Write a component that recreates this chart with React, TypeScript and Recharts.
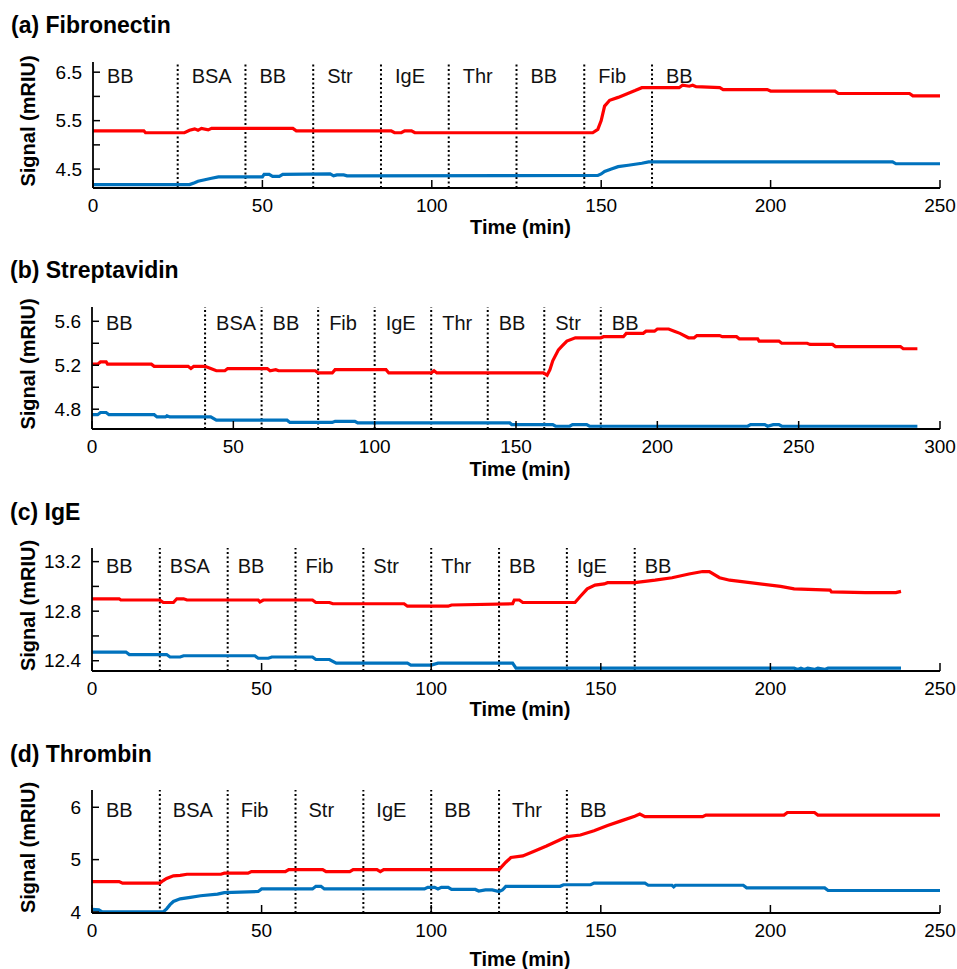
import { LineChart, Line, XAxis, YAxis, ReferenceLine } from 'recharts';

const FONT = 'Arial, "Liberation Sans", Helvetica, sans-serif';
const RED = '#ff0000';
const BLUE = '#0072bd';

// (a) Fibronectin
const aPhases = ['BB', 'BSA', 'BB', 'Str', 'IgE', 'Thr', 'BB', 'Fib', 'BB'];
const aPhaseStart = [0, 25, 45, 65, 85, 105, 125, 145, 165];
const aXTicks = [0, 50, 100, 150, 200, 250];
const aYTicks = [4.5, 5, 5.5, 6, 6.5];
const aYLabels = [4.5, 5.5, 6.5];
const aRedT = [0, 15, 15.5, 27, 28.5, 30, 31, 32, 34, 35, 59, 60, 88, 89, 91, 92, 94, 95, 147.5, 149, 150, 151, 152.5, 155, 157.5, 160, 162, 173, 174, 176, 177, 178, 185, 186, 199, 200, 219, 220, 241, 242, 250];
const aRedV = [5.29, 5.29, 5.25, 5.25, 5.3, 5.33, 5.3, 5.34, 5.31, 5.34, 5.34, 5.29, 5.29, 5.25, 5.25, 5.29, 5.29, 5.25, 5.25, 5.32, 5.5, 5.8, 5.92, 5.98, 6.05, 6.12, 6.18, 6.18, 6.23, 6.21, 6.23, 6.2, 6.18, 6.14, 6.14, 6.11, 6.11, 6.06, 6.06, 6.01, 6.01];
const aBlueT = [0, 28.5, 30, 31, 33, 35, 37, 50, 50.5, 52, 53, 55, 56, 70, 71, 72, 74, 75, 149, 150, 151, 153, 155, 158, 160, 162, 164, 236, 237, 250];
const aBlueV = [4.18, 4.18, 4.22, 4.25, 4.28, 4.31, 4.34, 4.34, 4.39, 4.39, 4.35, 4.35, 4.39, 4.4, 4.36, 4.38, 4.38, 4.36, 4.37, 4.4, 4.45, 4.5, 4.55, 4.58, 4.6, 4.62, 4.65, 4.65, 4.61, 4.61];

// (b) Streptavidin
const bPhases = ['BB', 'BSA', 'BB', 'Fib', 'IgE', 'Thr', 'BB', 'Str', 'BB'];
const bPhaseStart = [0, 40, 60, 80, 100, 120, 140, 160, 180];
const bXTicks = [0, 50, 100, 150, 200, 250, 300];
const bYTicks = [4.8, 5.0, 5.2, 5.4, 5.6];
const bYLabels = [4.8, 5.2, 5.6];
const bRedT = [0, 2, 3, 5, 5.5, 21, 22, 34, 35, 36, 40, 42, 44, 47, 48, 62, 63, 65, 66, 79, 80, 85, 86, 104, 105, 120, 121, 122, 159.7, 161, 162, 163, 165, 166.5, 168, 171, 180, 181, 188, 189, 195, 196, 199, 200, 204, 206, 208, 211, 213, 214, 222, 223, 228, 229, 235.5, 236, 243, 244, 253, 254, 262, 263, 286, 287, 292];
const bRedV = [5.21, 5.21, 5.23, 5.23, 5.21, 5.21, 5.19, 5.19, 5.17, 5.19, 5.19, 5.17, 5.15, 5.15, 5.17, 5.17, 5.15, 5.16, 5.15, 5.15, 5.13, 5.13, 5.16, 5.16, 5.13, 5.13, 5.15, 5.13, 5.13, 5.11, 5.16, 5.24, 5.34, 5.38, 5.42, 5.45, 5.45, 5.46, 5.46, 5.49, 5.49, 5.51, 5.51, 5.53, 5.53, 5.51, 5.49, 5.45, 5.45, 5.47, 5.47, 5.46, 5.46, 5.44, 5.44, 5.42, 5.42, 5.4, 5.4, 5.39, 5.39, 5.37, 5.37, 5.35, 5.35];
const bBlueT = [0, 2, 3, 5, 6, 22, 23, 26, 26.5, 27.5, 42, 44, 69, 70, 85, 86, 93, 94, 147.8, 148.5, 163, 164, 169, 170, 175, 176, 232, 233, 238, 239, 241, 243, 244, 292];
const bBlueV = [4.75, 4.75, 4.77, 4.77, 4.75, 4.75, 4.73, 4.73, 4.74, 4.73, 4.73, 4.7, 4.7, 4.68, 4.68, 4.69, 4.69, 4.675, 4.675, 4.66, 4.66, 4.645, 4.645, 4.66, 4.66, 4.645, 4.645, 4.66, 4.66, 4.645, 4.66, 4.66, 4.645, 4.645];

// (c) IgE
const cPhases = ['BB', 'BSA', 'BB', 'Fib', 'Str', 'Thr', 'BB', 'IgE', 'BB'];
const cPhaseStart = [0, 20, 40, 60, 80, 100, 120, 140, 160];
const cXTicks = [0, 50, 100, 150, 200, 250];
const cYTicks = [12.4, 12.6, 12.8, 13.0, 13.2];
const cYLabels = [12.4, 12.8, 13.2];
const cRedT = [0, 8, 8.5, 20, 21, 24, 25, 27, 28, 49, 49.5, 50.5, 65, 66, 70, 71, 92, 93, 105, 106, 124, 124.5, 126, 127, 142.4, 144, 146, 148.3, 151, 152, 160, 166, 171, 176, 180, 182, 185, 188, 194, 203, 207, 217.6, 218, 228, 237, 238.5];
const cRedV = [12.9, 12.9, 12.89, 12.89, 12.87, 12.87, 12.9, 12.9, 12.89, 12.89, 12.875, 12.89, 12.89, 12.87, 12.87, 12.86, 12.86, 12.84, 12.84, 12.85, 12.86, 12.89, 12.89, 12.87, 12.87, 12.92, 12.98, 13.01, 13.02, 13.03, 13.03, 13.05, 13.07, 13.1, 13.12, 13.12, 13.07, 13.05, 13.03, 13.0, 12.98, 12.97, 12.955, 12.95, 12.95, 12.96];
const cBlueT = [0, 10, 11, 22, 23, 26, 27, 48, 49, 52, 53, 65, 66, 70, 72, 93, 94, 100, 102, 124, 125, 207, 208, 209, 210, 211, 213, 214, 216, 217, 238.5];
const cBlueV = [12.47, 12.47, 12.45, 12.45, 12.43, 12.43, 12.44, 12.44, 12.42, 12.42, 12.43, 12.43, 12.41, 12.41, 12.38, 12.38, 12.365, 12.365, 12.38, 12.38, 12.34, 12.34, 12.33, 12.34, 12.33, 12.34, 12.33, 12.34, 12.33, 12.34, 12.34];

// (d) Thrombin
const dPhases = ['BB', 'BSA', 'Fib', 'Str', 'IgE', 'BB', 'Thr', 'BB'];
const dPhaseStart = [0, 20, 40, 60, 80, 100, 120, 140];
const dXTicks = [0, 50, 100, 150, 200, 250];
const dYTicks = [4, 5, 6];
const dYLabels = [4, 5, 6];
const dRedT = [0, 8, 9, 20, 21, 22, 24, 26, 28, 38, 39, 46, 47, 57, 58, 68, 69, 76, 77, 84, 85, 86, 120, 121, 122, 123.5, 127, 130, 134, 138, 140, 144, 148, 152, 156, 160, 161.5, 163, 180, 181, 204, 205, 213, 214, 250];
const dRedV = [4.58, 4.58, 4.55, 4.55, 4.6, 4.64, 4.69, 4.7, 4.72, 4.72, 4.74, 4.74, 4.77, 4.77, 4.81, 4.81, 4.77, 4.77, 4.81, 4.81, 4.77, 4.81, 4.81, 4.88, 4.95, 5.04, 5.07, 5.15, 5.26, 5.38, 5.44, 5.47, 5.55, 5.65, 5.74, 5.83, 5.87, 5.82, 5.82, 5.85, 5.85, 5.9, 5.9, 5.85, 5.85];
const dBlueT = [0, 2, 3, 21, 22, 23, 24, 26, 29, 32, 37, 39, 49, 50, 65, 66, 67.5, 68.5, 98, 99, 101, 102, 103, 105, 106, 113, 114, 116, 118, 120, 121, 122, 138, 139, 147, 148, 163, 164, 171, 171.5, 172, 192, 193, 216, 217, 250];
const dBlueV = [4.05, 4.04, 4.0, 4.0, 4.06, 4.14, 4.2, 4.25, 4.28, 4.31, 4.34, 4.37, 4.39, 4.44, 4.44, 4.49, 4.49, 4.44, 4.44, 4.47, 4.47, 4.44, 4.47, 4.47, 4.43, 4.43, 4.4, 4.42, 4.42, 4.39, 4.42, 4.49, 4.49, 4.52, 4.52, 4.55, 4.55, 4.51, 4.51, 4.48, 4.51, 4.51, 4.46, 4.46, 4.41, 4.41];

const toPoints = (t: number[], v: number[]) => t.map((x, i) => ({ t: x, v: v[i] }));

interface PanelProps {
  plotTop: number;
  plotBottom: number;
  plotLeft: number;
  xMax: number;
  yDomain: [number, number];
  xTicks: number[];
  yTicks: number[];
  yLabels: number[];
  phases: string[];
  starts: number[];
  red: { t: number; v: number }[];
  blue: { t: number; v: number }[];
  phaseDx: number;
  phaseDy: number;
  xLabelDy: number;
}

const PLOT_RIGHT = 940;
const WIDTH = 957;
const TOP_PAD = 10;
const X_AXIS_H = 58;

function Panel(p: PanelProps) {
  const plotH = p.plotBottom - p.plotTop;
  const height = TOP_PAD + plotH + X_AXIS_H;
  const tickStyle = { fill: '#000', fontSize: 19, fontFamily: FONT };
  const axisLine = { stroke: '#000', strokeWidth: 1.8 };
  const tickLine = { stroke: '#000', strokeWidth: 1.5 };
  return (
    <div style={{ position: 'absolute', left: 0, top: p.plotTop - TOP_PAD }}>
      <LineChart width={WIDTH} height={height} margin={{ top: TOP_PAD, right: WIDTH - PLOT_RIGHT, bottom: 0, left: 0 }}>
        <XAxis
          xAxisId="b"
          dataKey="t"
          type="number"
          domain={[0, p.xMax]}
          ticks={p.xTicks}
          allowDuplicatedCategory={false}
          height={X_AXIS_H}
          tick={tickStyle}
          tickSize={-8}
          tickMargin={19}
          axisLine={axisLine}
          tickLine={tickLine}
          label={(lp: any) => (
            <text
              x={lp.viewBox.x + lp.viewBox.width / 2 + 4}
              y={lp.viewBox.y + p.xLabelDy}
              textAnchor="middle"
              fontSize={20}
              fontWeight="bold"
              fontFamily={FONT}
              fill="#000"
            >
              Time (min)
            </text>
          )}
        />
        <XAxis
          xAxisId="t"
          orientation="top"
          dataKey="t"
          type="number"
          domain={[0, p.xMax]}
          ticks={p.xTicks}
          height={0}
          tickSize={-8}
          tickFormatter={() => ''}
          axisLine={axisLine}
          tickLine={tickLine}
        />
        <YAxis
          yAxisId="l"
          type="number"
          domain={p.yDomain}
          ticks={p.yTicks}
          width={p.plotLeft}
          tick={tickStyle}
          tickSize={-7}
          tickMargin={18}
          tickFormatter={(v: number) => (p.yLabels.includes(v) ? String(v) : '')}
          axisLine={axisLine}
          tickLine={tickLine}
          label={(lp: any) => {
            const cx = 28;
            const cy = lp.viewBox.y + lp.viewBox.height / 2 - 4;
            return (
              <text
                x={cx}
                y={cy}
                transform={`rotate(-90 ${cx} ${cy})`}
                textAnchor="middle"
                dominantBaseline="central"
                fontSize={20}
                fontWeight="bold"
                fontFamily={FONT}
                fill="#000"
              >
                Signal (mRIU)
              </text>
            );
          }}
        />
        <YAxis
          yAxisId="r"
          orientation="right"
          type="number"
          domain={p.yDomain}
          ticks={p.yTicks}
          width={0}
          tickSize={-7}
          tickFormatter={() => ''}
          axisLine={axisLine}
          tickLine={tickLine}
        />
        {p.phases.map((name, i) => (
          <ReferenceLine
            key={i}
            xAxisId="b"
            yAxisId="l"
            x={p.starts[i]}
            stroke={i === 0 ? 'none' : '#000'}
            strokeWidth={2}
            strokeDasharray="2 2.5"
            label={(lp: any) => (
              <text
                x={lp.viewBox.x + (i === 0 ? 14 : p.phaseDx)}
                y={lp.viewBox.y + p.phaseDy}
                fontSize={20}
                fontFamily={FONT}
                fill="#111"
              >
                {name}
              </text>
            )}
          />
        ))}
        <Line xAxisId="b" yAxisId="l" data={p.red} dataKey="v" type="linear" stroke={RED} strokeWidth={3.2} dot={false} isAnimationActive={false} />
        <Line xAxisId="b" yAxisId="l" data={p.blue} dataKey="v" type="linear" stroke={BLUE} strokeWidth={3.2} dot={false} isAnimationActive={false} />
      </LineChart>
    </div>
  );
}

const titles = [
  { text: '(a) Fibronectin', x: 11, y: 33 },
  { text: '(b) Streptavidin', x: 10, y: 278 },
  { text: '(c) IgE', x: 10, y: 520 },
  { text: '(d) Thrombin', x: 10, y: 762 },
];

export default function App() {
  return (
    <div style={{ position: 'absolute', left: 0, top: 0, width: WIDTH, height: 969, background: '#fff', overflow: 'hidden' }}>
      <Panel
        plotTop={62} plotBottom={188} plotLeft={93} xMax={250} yDomain={[4.11, 6.71]}
        xTicks={aXTicks} yTicks={aYTicks} yLabels={aYLabels}
        phases={aPhases} starts={aPhaseStart}
        red={toPoints(aRedT, aRedV)} blue={toPoints(aBlueT, aBlueV)}
        phaseDx={14} phaseDy={21} xLabelDy={46}
      />
      <Panel
        plotTop={307} plotBottom={429} plotLeft={92} xMax={300} yDomain={[4.62, 5.73]}
        xTicks={bXTicks} yTicks={bYTicks} yLabels={bYLabels}
        phases={bPhases} starts={bPhaseStart}
        red={toPoints(bRedT, bRedV)} blue={toPoints(bBlueT, bBlueV)}
        phaseDx={11} phaseDy={23} xLabelDy={47}
      />
      <Panel
        plotTop={548} plotBottom={671} plotLeft={92} xMax={250} yDomain={[12.317, 13.31]}
        xTicks={cXTicks} yTicks={cYTicks} yLabels={cYLabels}
        phases={cPhases} starts={cPhaseStart}
        red={toPoints(cRedT, cRedV)} blue={toPoints(cBlueT, cBlueV)}
        phaseDx={10} phaseDy={25} xLabelDy={45}
      />
      <Panel
        plotTop={790} plotBottom={913} plotLeft={92} xMax={250} yDomain={[3.98, 6.33]}
        xTicks={dXTicks} yTicks={dYTicks} yLabels={dYLabels}
        phases={dPhases} starts={dPhaseStart}
        red={toPoints(dRedT, dRedV)} blue={toPoints(dBlueT, dBlueV)}
        phaseDx={13} phaseDy={27} xLabelDy={53}
      />
      <svg width={WIDTH} height={969} style={{ position: 'absolute', left: 0, top: 0, pointerEvents: 'none' }}>
        {titles.map((t) => (
          <text key={t.text} x={t.x} y={t.y} fontSize={23} fontWeight="bold" fontFamily={FONT} fill="#000">
            {t.text}
          </text>
        ))}
      </svg>
    </div>
  );
}
